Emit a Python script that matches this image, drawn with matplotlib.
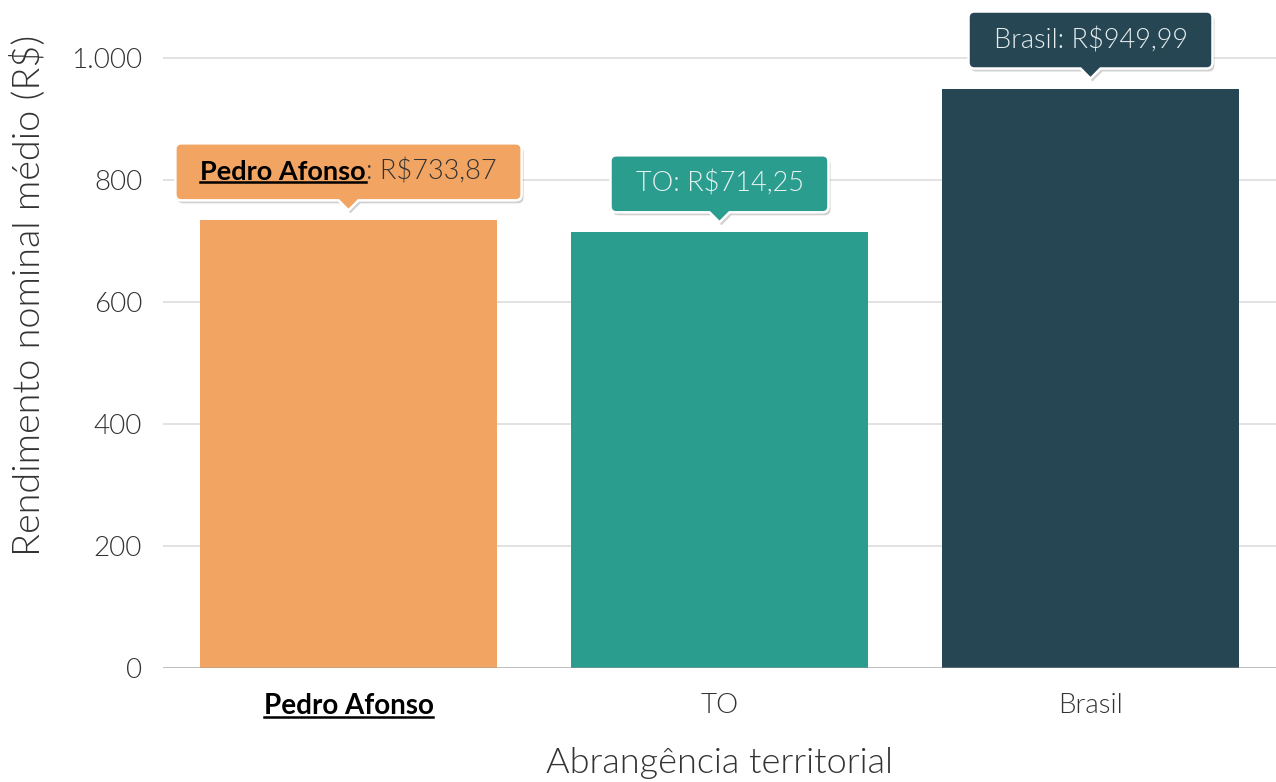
import matplotlib
matplotlib.use('Agg')
import matplotlib.pyplot as plt
import matplotlib.transforms as mtransforms
from matplotlib.path import Path
from matplotlib.patches import PathPatch
from matplotlib.lines import Line2D
from matplotlib.ticker import FuncFormatter

# dados
categorias = ['Pedro Afonso', 'TO', 'Brasil']
rendimento = [733.87, 714.25, 949.99]
rotulos = ['R$733,87', 'R$714,25', 'R$949,99']
cores = ['#F2A462', '#2A9D8F', '#264653']
cor_texto_tip = ['#333333', '#E6F2F0', '#E6EEF0']

plt.rcParams['font.family'] = ['Lato', 'DejaVu Sans']

fig = plt.figure(figsize=(12.76, 7.82), dpi=100)
ax = fig.add_axes([163 / 1276, 1 - 668 / 782, 1 - 163 / 1276, 668 / 782])

x = list(range(len(categorias)))
ax.bar(x, rendimento, width=0.8, color=cores, zorder=2)
ax.set_xlim(-0.5, 2.5)
ax.set_ylim(0, 668 / 0.61)
ax.set_yticks([0, 200, 400, 600, 800, 1000])
ax.yaxis.set_major_formatter(FuncFormatter(lambda v, p: f'{v:,.0f}'.replace(',', '.')))
ax.grid(axis='y', color='#DDDDDD', linewidth=1.2, zorder=0)
ax.axhline(0, color='#999999', alpha=0.5, linewidth=2, zorder=3)
for s in ax.spines.values():
    s.set_visible(False)
ax.tick_params(length=0)
ax.tick_params(axis='y', labelsize=20, labelcolor='#333333', pad=15)
ax.tick_params(axis='x', labelsize=20, labelcolor='#333333', pad=18)
ax.set_xticks(x)
ax.set_xticklabels(categorias)
for t in ax.get_yticklabels():
    t.set_fontweight(300)
for i, t in enumerate(ax.get_xticklabels()):
    if i == 0:
        t.set_fontweight('bold')
        t.set_color('black')
    else:
        t.set_fontweight(300)

ax.set_xlabel('Abrangência territorial', fontsize=26, fontweight=300, color='#333333', labelpad=20)
ax.set_ylabel('Rendimento nominal médio (R$)', fontsize=27.2, fontweight=300, color='#333333')
ax.yaxis.set_label_coords(-117 / 1113, (668 - 295) / 668)


def tooltip_path(w, h, r, tw, th):
    cw = [
        (-tw, th), (0, 0), (tw, th), (w / 2 - r, th),
        (w / 2, th), (w / 2, th + r),
        (w / 2, th + h - r),
        (w / 2, th + h), (w / 2 - r, th + h),
        (-w / 2 + r, th + h),
        (-w / 2, th + h), (-w / 2, th + h - r),
        (-w / 2, th + r),
        (-w / 2, th), (-w / 2 + r, th),
        (-tw, th),
    ]
    codes = [Path.MOVETO, Path.LINETO, Path.LINETO, Path.LINETO,
             Path.CURVE3, Path.CURVE3, Path.LINETO,
             Path.CURVE3, Path.CURVE3, Path.LINETO,
             Path.CURVE3, Path.CURVE3, Path.LINETO,
             Path.CURVE3, Path.CURVE3, Path.CLOSEPOLY]
    return Path(cw, codes)


fig.canvas.draw()
renderer = fig.canvas.get_renderer()

gap, th, h, pad = 10, 10, 57, 25
for i, (v, rot) in enumerate(zip(rendimento, rotulos)):
    trans = mtransforms.IdentityTransform() + mtransforms.ScaledTranslation(i, v, ax.transData)
    ymid = gap + th + h / 2
    if i == 0:
        t1 = ax.text(0, ymid, categorias[0], transform=trans, fontsize=19.5, fontweight='bold',
                     color='black', va='center', ha='left', zorder=6)
        t2 = ax.text(0, ymid, ': ' + rot, transform=trans, fontsize=19.5, fontweight=300,
                     color=cor_texto_tip[i], va='center', ha='left', zorder=6)
        partes = [t1, t2]
    else:
        t1 = ax.text(0, ymid, categorias[i] + ': ' + rot, transform=trans, fontsize=19.5,
                     fontweight=300, color=cor_texto_tip[i], va='center', ha='left', zorder=6)
        partes = [t1]
    larguras = [p.get_window_extent(renderer).width for p in partes]
    total = sum(larguras)
    xpos = -total / 2
    for p, lw in zip(partes, larguras):
        p.set_x(xpos)
        xpos += lw
    if i == 0:
        bb = partes[0].get_window_extent(renderer)
        yb = ymid - bb.height / 2 + 2
        ax.add_line(Line2D([-total / 2, -total / 2 + larguras[0]], [yb, yb], transform=trans,
                           color='black', linewidth=1.8, zorder=6))
    w = total + 2 * pad
    path = tooltip_path(w, h, 6, 10, th)
    sombra = mtransforms.Affine2D().translate(2, gap - 3) + trans
    ax.add_patch(PathPatch(path, transform=sombra, fc='#000000', ec='none', alpha=0.18, zorder=4,
                           clip_on=False))
    caixa = mtransforms.Affine2D().translate(0, gap) + trans
    ax.add_patch(PathPatch(path, transform=caixa, fc=cores[i], ec='white', lw=1.8, zorder=5,
                           clip_on=False))

# sublinhado do rótulo do eixo x
lab = ax.get_xticklabels()[0]
bb = lab.get_window_extent(renderer)
fig.add_artist(Line2D([bb.x0, bb.x1], [bb.y0 + 2, bb.y0 + 2], transform=None,
                      color='black', linewidth=1.8))

fig.savefig('out.png', dpi=100)
